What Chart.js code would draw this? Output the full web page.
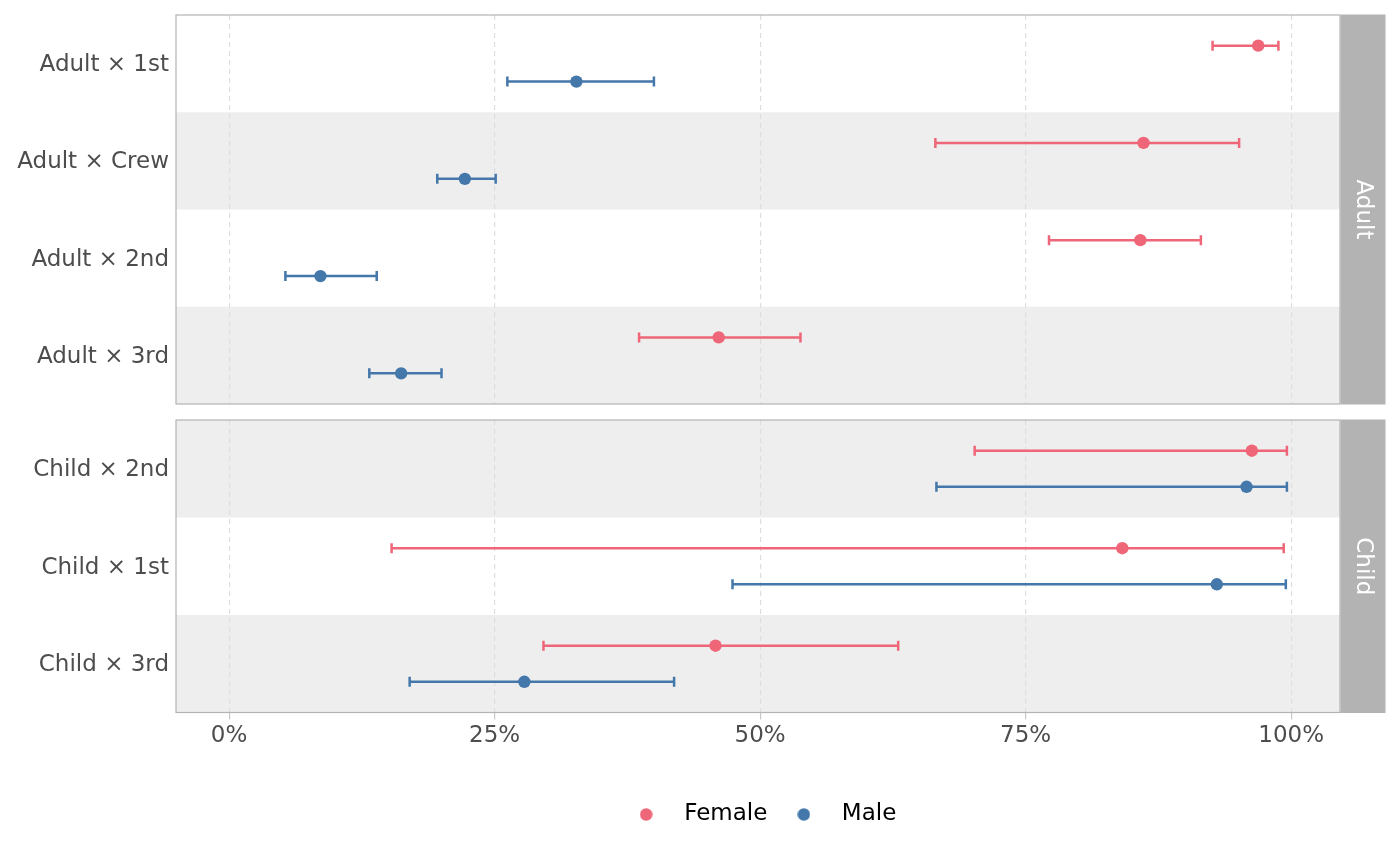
<!DOCTYPE html>
<html>
<head>
<meta charset="utf-8">
<script src="https://cdn.jsdelivr.net/npm/chart.js@4"></script>
<style>
  body { margin: 0; background: #ffffff; }
  .panel { position: absolute; left: 0; width: 1400px; }
  #topWrap { top: 0; height: 412px; }
  #bottomWrap { top: 412px; height: 454px; }
</style>
</head>
<body>
<div class="panel" id="topWrap"><canvas id="adultChart"></canvas></div>
<div class="panel" id="bottomWrap"><canvas id="childChart"></canvas></div>
<script>
// Row labels of the two facets (top to bottom)
const adultLabels = ['Adult × 1st', 'Adult × Crew', 'Adult × 2nd', 'Adult × 3rd'];
const childLabels = ['Child × 2nd', 'Child × 1st', 'Child × 3rd'];

// Survival share in % with its interval
const femaleAdult = [96.9, 86.1, 85.8, 46.1];
const femaleAdultLo = [92.6, 66.5, 77.2, 38.6];
const femaleAdultHi = [98.8, 95.1, 91.5, 53.8];
const maleAdult = [32.7, 22.2, 8.6, 16.2];
const maleAdultLo = [26.2, 19.6, 5.3, 13.2];
const maleAdultHi = [40.0, 25.1, 13.9, 20.0];

const femaleChild = [96.3, 84.1, 45.8];
const femaleChildLo = [70.2, 15.3, 29.6];
const femaleChildHi = [99.6, 99.3, 63.0];
const maleChild = [95.8, 93.0, 27.8];
const maleChildLo = [66.6, 47.4, 17.0];
const maleChildHi = [99.6, 99.5, 41.9];

const xTicks = [0, 25, 50, 75, 100];

const FEMALE = '#EE6677';
const MALE = '#4477AA';
const GREY70 = '#B3B3B3';
const DODGE = 0.185; // vertical offset of the two groups inside a row

Chart.defaults.font.family = 'DejaVu Sans';
Chart.defaults.animation = false;

// little round image used as legend marker
function dot(color) {
    const c = document.createElement('canvas');
    c.width = 13; c.height = 13;
    const g = c.getContext('2d');
    g.fillStyle = color;
    g.beginPath();
    g.arc(6.5, 6.5, 6.2, 0, Math.PI * 2);
    g.fill();
    return c;
}

// draws shaded rows, error bars, panel border and the facet strip
const facetPlugin = {
    id: 'facet',
    beforeDraw(chart) {
        const {ctx, chartArea: a, scales: {y}} = chart;
        const bands = chart.options.plugins.facet.bands;
        ctx.save();
        ctx.fillStyle = '#EEEEEE';
        bands.forEach((on, i) => {
            if (!on) return;
            const y0 = y.getPixelForValue(i - 0.5);
            const y1 = y.getPixelForValue(i + 0.5);
            ctx.fillRect(a.left, Math.min(y0, y1), a.right - a.left, Math.abs(y1 - y0));
        });
        ctx.restore();
    },
    beforeDatasetsDraw(chart) {
        const {ctx, scales: {x, y}} = chart;
        ctx.save();
        ctx.lineWidth = 2.5;
        chart.data.datasets.forEach(ds => {
            ctx.strokeStyle = ds.backgroundColor;
            ds.data.forEach(p => {
                const py = y.getPixelForValue(p.y);
                const x0 = x.getPixelForValue(p.lo);
                const x1 = x.getPixelForValue(p.hi);
                ctx.beginPath();
                ctx.moveTo(x0, py); ctx.lineTo(x1, py);
                ctx.moveTo(x0, py - 5); ctx.lineTo(x0, py + 5);
                ctx.moveTo(x1, py - 5); ctx.lineTo(x1, py + 5);
                ctx.stroke();
            });
        });
        ctx.restore();
    },
    afterDraw(chart) {
        const {ctx, chartArea: a} = chart;
        const text = chart.options.plugins.facet.strip;
        ctx.save();
        ctx.strokeStyle = GREY70;
        ctx.lineWidth = 1.2;
        ctx.strokeRect(a.left, a.top, a.right - a.left, a.bottom - a.top);
        ctx.fillStyle = GREY70;
        ctx.fillRect(a.right + 0.5, a.top - 0.5, 45, a.bottom - a.top + 1);
        ctx.translate(a.right + 23, (a.top + a.bottom) / 2);
        ctx.rotate(Math.PI / 2);
        ctx.fillStyle = '#FFFFFF';
        ctx.font = '23px "DejaVu Sans"';
        ctx.textAlign = 'center';
        ctx.textBaseline = 'middle';
        ctx.fillText(text, 0, 0);
        ctx.restore();
    }
};

function makePanel(id, labels, f, fLo, fHi, m, mLo, mHi, bands, strip, bottom) {
    const female = f.map((v, i) => ({x: v, y: i - DODGE, lo: fLo[i], hi: fHi[i]}));
    const male = m.map((v, i) => ({x: v, y: i + DODGE, lo: mLo[i], hi: mHi[i]}));

    return new Chart(document.getElementById(id), {
        type: 'scatter',
        data: {
            datasets: [
                {label: 'Female', data: female, backgroundColor: FEMALE, borderWidth: 0, pointRadius: 6.2, pointHoverRadius: 6.2},
                {label: 'Male', data: male, backgroundColor: MALE, borderWidth: 0, pointRadius: 6.2, pointHoverRadius: 6.2}
            ]
        },
        options: {
            responsive: true,
            maintainAspectRatio: false,
            layout: {padding: bottom ? {top: 8, right: 60, bottom: 30, left: 0} : {top: 15, right: 60, bottom: 8, left: 0}},
            scales: {
                x: {
                    type: 'linear', min: -5, max: 104.6,
                    afterBuildTicks: s => { s.ticks = xTicks.map(v => ({value: v})); },
                    ticks: {display: bottom, callback: v => v + '%', color: '#4D4D4D', font: {size: 23}, padding: 3, maxRotation: 0},
                    grid: {color: '#DEDEDE', lineWidth: 1.2, drawTicks: bottom, tickLength: 7, tickColor: '#C8C8C8'},
                    border: {display: false, dash: [5, 4]},
                    afterFit: s => { s.height = bottom ? 80.5 : 0; s.paddingLeft = 0; s.paddingRight = 0; }
                },
                y: {
                    type: 'linear', min: -0.5, max: labels.length - 0.5, reverse: true,
                    afterBuildTicks: s => { s.ticks = labels.map((_, i) => ({value: i})); },
                    ticks: {callback: v => labels[v], color: '#4D4D4D', font: {size: 23}, padding: 7, labelOffset: 1.5},
                    grid: {display: false, drawTicks: false},
                    border: {display: false},
                    afterFit: s => { s.width = 176; s.paddingTop = 0; s.paddingBottom = 0; }
                }
            },
            plugins: {
                tooltip: {enabled: false},
                facet: {bands: bands, strip: strip},
                legend: {
                    display: bottom,
                    position: 'bottom',
                    fullSize: false,
                    labels: {
                        usePointStyle: true,
                        pointStyleWidth: 53,
                        color: '#000000',
                        font: {size: 23},
                        padding: 10,
                        generateLabels: c => c.data.datasets.map((ds, i) => ({
                            text: ds.label,
                            pointStyle: dot(ds.backgroundColor),
                            fillStyle: ds.backgroundColor,
                            strokeStyle: ds.backgroundColor,
                            lineWidth: 0,
                            hidden: false,
                            fontColor: '#000000',
                            datasetIndex: i
                        }))
                    }
                }
            }
        },
        plugins: [facetPlugin]
    });
}

makePanel('adultChart', adultLabels, femaleAdult, femaleAdultLo, femaleAdultHi,
    maleAdult, maleAdultLo, maleAdultHi, [0, 1, 0, 1], 'Adult', false);
makePanel('childChart', childLabels, femaleChild, femaleChildLo, femaleChildHi,
    maleChild, maleChildLo, maleChildHi, [1, 0, 1], 'Child', true);
</script>
</body>
</html>
